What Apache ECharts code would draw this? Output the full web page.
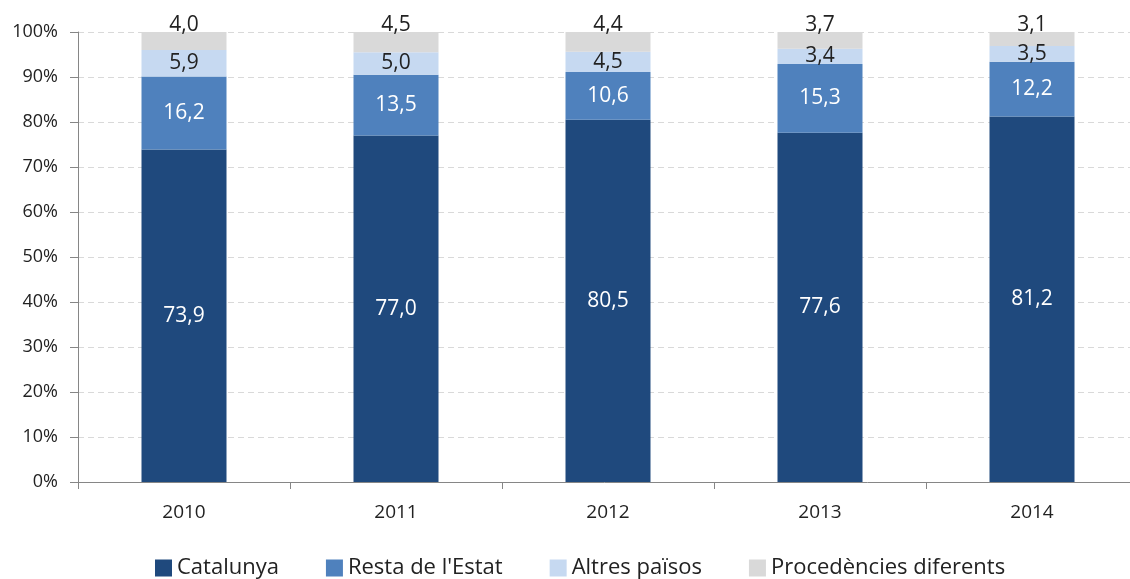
<!DOCTYPE html>
<html lang="ca">
<head>
  <meta charset="UTF-8">
  <title>Procedència</title>
  <style>
    html, body { margin: 0; padding: 0; background: #fff; }
    #main { width: 1130px; height: 579px; }
  </style>
</head>
<body>
  <div id="main"></div>
  <script src="https://cdn.jsdelivr.net/npm/echarts@6/dist/echarts.min.js"></script>
  <script>
    var years = ['2010', '2011', '2012', '2013', '2014'];
    var catalunya = [73.9, 77.0, 80.5, 77.6, 81.2];
    var restaEstat = [16.2, 13.5, 10.6, 15.3, 12.2];
    var altresPaisos = [5.9, 5.0, 4.5, 3.4, 3.5];
    var procedencies = [4.0, 4.5, 4.4, 3.7, 3.1];

    var font = 'Open Sans';

    function fmt(p) {
      return p.value.toFixed(1).replace('.', ',');
    }

    function serie(name, data, color, labelColor, pos) {
      return {
        name: name,
        type: 'bar',
        stack: 'total',
        barWidth: 85,
        data: data,
        itemStyle: { color: color },
        label: {
          show: true,
          position: pos || 'inside',
          distance: pos ? -4 : 5,
          color: labelColor,
          fontFamily: font,
          fontSize: 21,
          formatter: fmt
        }
      };
    }

    var chart = echarts.init(document.getElementById('main'));
    chart.setOption({
      animation: false,
      grid: { left: 78, width: 1060, top: 32, bottom: 97, containLabel: false, outerBoundsMode: 'none' },
      legend: {
        top: 552,
        left: 150,
        itemWidth: 17,
        itemHeight: 17,
        itemGap: 47,
        icon: 'rect',
        textStyle: { fontFamily: font, fontSize: 22, color: '#222' },
        data: ['Catalunya', "Resta de l'Estat", 'Altres països', 'Procedències diferents']
      },
      xAxis: {
        type: 'category',
        data: years,
        axisLine: { lineStyle: { color: '#868686' } },
        axisTick: { show: true, length: 7, lineStyle: { color: '#868686' } },
        axisLabel: { fontFamily: font, fontSize: 19, color: '#222', margin: 21 }
      },
      yAxis: {
        type: 'value',
        min: 0,
        max: 100,
        interval: 10,
        axisLine: { show: true, lineStyle: { color: '#868686' } },
        axisTick: { show: true, length: 8, lineStyle: { color: '#868686' } },
        axisLabel: { fontFamily: font, fontSize: 18, color: '#222', margin: 20, formatter: '{value}%' },
        splitLine: { lineStyle: { color: '#d9d9d9', type: [6, 4] } }
      },
      series: [
        serie('Catalunya', catalunya, '#1f497d', '#fff'),
        serie("Resta de l'Estat", restaEstat, '#4f81bd', '#fff'),
        serie('Altres països', altresPaisos, '#c6d9f1', '#222'),
        serie('Procedències diferents', procedencies, '#d9d9d9', '#222', 'top')
      ]
    });
  </script>
</body>
</html>
